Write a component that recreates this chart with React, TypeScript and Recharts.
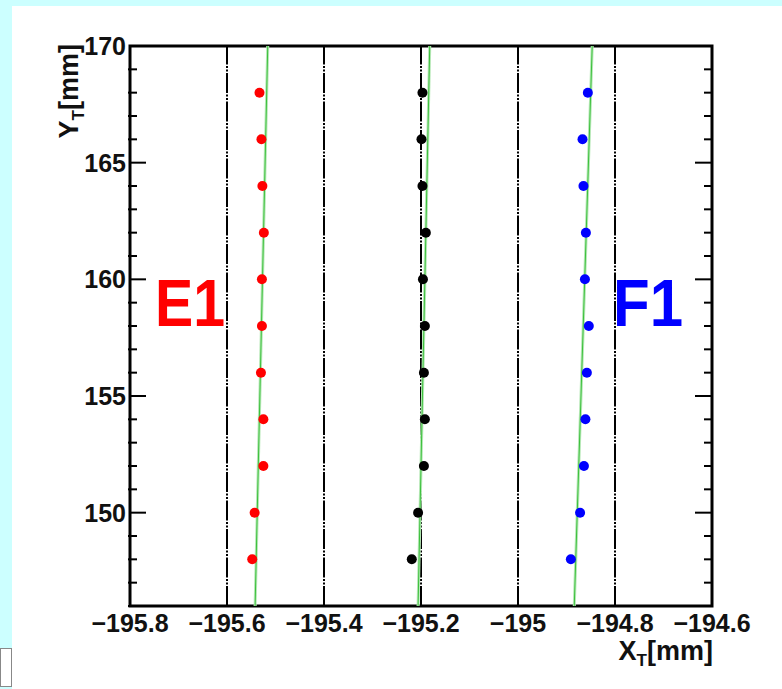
import React from 'react';
import {
  ScatterChart,
  Scatter,
  XAxis,
  YAxis,
  ReferenceLine,
  ReferenceArea,
} from 'recharts';

// Y positions of the wire scan (mm)
const yValues = [168, 166, 164, 162, 160, 158, 156, 154, 152, 150, 148];

// measured X positions for each column (mm)
const e1X = [-195.533, -195.529, -195.527, -195.524, -195.528, -195.528, -195.53, -195.525, -195.525, -195.543, -195.548];
const centerX = [-195.197, -195.199, -195.197, -195.19, -195.196, -195.192, -195.194, -195.192, -195.194, -195.206, -195.219];
const f1X = [-194.856, -194.867, -194.865, -194.86, -194.862, -194.854, -194.858, -194.861, -194.864, -194.872, -194.891];

// straight line fits: x at y = 146 and y = 170
const fitY = [146, 170];
const fitE1 = [-195.542, -195.516];
const fitCenter = [-195.206, -195.182];
const fitF1 = [-194.884, -194.847];

// axis ticks
const xMajorTicks = [-195.8, -195.6, -195.4, -195.2, -195, -194.8, -194.6];
const xMinorTicks = [-195.7, -195.5, -195.3, -195.1, -194.9, -194.7];
const xGridLines = [-195.6, -195.4, -195.2, -195, -194.8];
const yMajorTicks = [150, 155, 160, 165, 170];
const yMinorTicks = [146, 147, 148, 149, 151, 152, 153, 154, 156, 157, 158, 159, 161, 162, 163, 164, 166, 167, 168, 169];

const X_DOMAIN: [number, number] = [-195.8, -194.6];
const Y_DOMAIN: [number, number] = [146, 170];

const toPoints = (xs: number[], ys: number[]) => xs.map((x, i) => ({ x, y: ys[i] }));

const e1Data = toPoints(e1X, yValues);
const centerData = toPoints(centerX, yValues);
const f1Data = toPoints(f1X, yValues);

const fits = [fitE1, fitCenter, fitF1];

const FONT = '"Liberation Sans", Arial, Helvetica, sans-serif';

const fmt = (v: number) => (v < 0 ? '\u2212' + Math.abs(v) : String(v));

const XTick = (props: any) => {
  const { x, y, payload } = props;
  return (
    <text x={x} y={y} textAnchor="middle" fontFamily={FONT} fontWeight="bold" fontSize={25} fill="#111">
      {fmt(payload.value)}
    </text>
  );
};

const YTick = (props: any) => {
  const { x, y, payload } = props;
  return (
    <text x={x} y={y} dy={9} textAnchor="end" fontFamily={FONT} fontWeight="bold" fontSize={25} fill="#111">
      {fmt(payload.value)}
    </text>
  );
};

// tick marks only, no label
const NoLabel = () => <g />;

const dot = (color: string) => (props: any) => <circle cx={props.cx} cy={props.cy} r={5} fill={color} />;

const tickStyle = { stroke: '#000', strokeWidth: 2 };

const markAxis = {
  type: 'number' as const,
  allowDataOverflow: true,
  interval: 0 as const,
  axisLine: false,
  tick: <NoLabel />,
  tickLine: tickStyle,
  stroke: '#000',
};

// every axis takes 1px, so margins are the plot edges minus the stacked axes
const App: React.FC = () => {
  return (
    <div style={{ position: 'absolute', left: 0, top: 0, width: 782, height: 689, background: '#ccffff', overflow: 'hidden' }}>
      <div style={{ position: 'absolute', left: 12, top: 6, width: 770, height: 683, background: '#fff' }} />
      <div style={{ position: 'absolute', left: 0, top: 648, width: 10, height: 37, background: '#fff', border: '1px solid #888' }} />
      <div style={{ position: 'absolute', left: 0, top: 0 }}>
        <ScatterChart width={782} height={689} margin={{ top: 44, right: 68, bottom: 80, left: 127 }}>
          <XAxis
            type="number"
            dataKey="x"
            domain={X_DOMAIN}
            allowDataOverflow
            ticks={xMajorTicks}
            interval={0}
            height={1}
            axisLine={false}
            tickLine={false}
            tickSize={0}
            tickMargin={26}
            tick={<XTick />}
          />
          <XAxis xAxisId="xMinB" {...markAxis} domain={X_DOMAIN} ticks={xMinorTicks} height={1} tickSize={-9} />
          <XAxis xAxisId="xMajB" {...markAxis} domain={X_DOMAIN} ticks={xMajorTicks} height={1} tickSize={-17} />
          <XAxis xAxisId="xMinT" orientation="top" {...markAxis} domain={X_DOMAIN} ticks={xMinorTicks} height={1} tickSize={-9} />
          <XAxis xAxisId="xMajT" orientation="top" {...markAxis} domain={X_DOMAIN} ticks={xMajorTicks} height={1} tickSize={-17} />
          <YAxis
            type="number"
            dataKey="y"
            domain={Y_DOMAIN}
            allowDataOverflow
            ticks={yMajorTicks}
            interval={0}
            width={1}
            axisLine={false}
            tickLine={false}
            tickSize={0}
            tickMargin={4}
            tick={<YTick />}
          />
          <YAxis yAxisId="yMinL" {...markAxis} domain={Y_DOMAIN} ticks={yMinorTicks} width={1} tickSize={-9} />
          <YAxis yAxisId="yMajL" {...markAxis} domain={Y_DOMAIN} ticks={yMajorTicks} width={1} tickSize={-17} />
          <YAxis yAxisId="yMinR" orientation="right" {...markAxis} domain={Y_DOMAIN} ticks={yMinorTicks} width={1} tickSize={-9} />
          <YAxis yAxisId="yMajR" orientation="right" {...markAxis} domain={Y_DOMAIN} ticks={yMajorTicks} width={1} tickSize={-17} />

          {xGridLines.map((gx) => (
            <ReferenceLine key={'g' + gx} x={gx} stroke="#000" strokeWidth={2} strokeDasharray="20 1.5 2 1.5 2 1.5" />
          ))}

          <Scatter data={e1Data} isAnimationActive={false} shape={dot('#ff0000')} />
          <Scatter data={centerData} isAnimationActive={false} shape={dot('#000000')} />
          <Scatter data={f1Data} isAnimationActive={false} shape={dot('#0000ff')} />

          {fits.map((f, i) => (
            <ReferenceLine
              key={'fw' + i}
              segment={[{ x: f[0], y: fitY[0] }, { x: f[1], y: fitY[1] }]}
              stroke="#b6e8b6"
              strokeWidth={3}
            />
          ))}
          {fits.map((f, i) => (
            <ReferenceLine
              key={'fn' + i}
              segment={[{ x: f[0], y: fitY[0] }, { x: f[1], y: fitY[1] }]}
              stroke="#3cc03c"
              strokeWidth={1}
            />
          ))}

          <ReferenceArea x1={X_DOMAIN[0]} x2={X_DOMAIN[1]} y1={Y_DOMAIN[0]} y2={Y_DOMAIN[1]} fill="none" stroke="#000" strokeWidth={3} />
        </ScatterChart>
      </div>
      <svg width={782} height={689} style={{ position: 'absolute', left: 0, top: 0, pointerEvents: 'none' }}>
        <text x={155} y={326} fontFamily={FONT} fontWeight="bold" fontSize={66} textLength={70} lengthAdjust="spacingAndGlyphs" fill="#ff0000">E1</text>
        <text x={613} y={326} fontFamily={FONT} fontWeight="bold" fontSize={66} textLength={70} lengthAdjust="spacingAndGlyphs" fill="#0000ff">F1</text>
        <text x={713} y={660} textAnchor="end" fontFamily={FONT} fontWeight="bold" fontSize={27} fill="#111">
          X<tspan fontSize={17} dy={6}>T</tspan>
          <tspan dy={-6}>[mm]</tspan>
        </text>
        <text x={78} y={44} transform="rotate(-90 78 44)" textAnchor="end" fontFamily={FONT} fontWeight="bold" fontSize={27} fill="#111">
          Y<tspan fontSize={17} dy={6}>T</tspan>
          <tspan dy={-6}>[mm]</tspan>
        </text>
      </svg>
    </div>
  );
};

export default App;
